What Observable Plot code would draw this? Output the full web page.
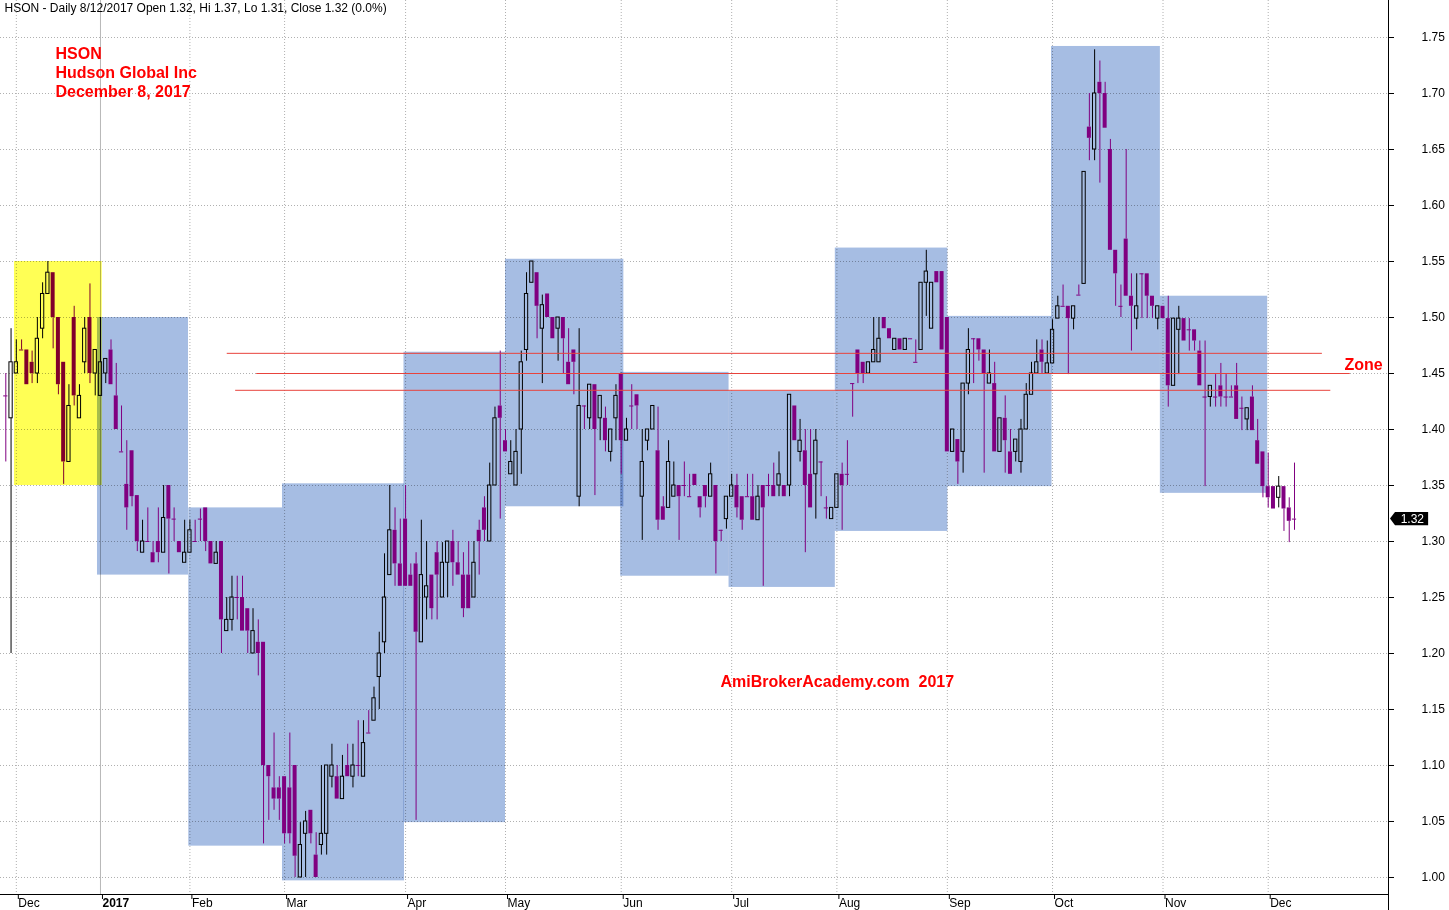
<!DOCTYPE html>
<html><head><meta charset="utf-8">
<script src="https://cdn.jsdelivr.net/npm/d3@7"></script>
<script src="https://cdn.jsdelivr.net/npm/@observablehq/plot@0.6"></script>
<style>html,body{margin:0;padding:0;background:#fff;}#chart{width:1449px;height:910px;}</style>
</head><body><div id="chart"></div>
<script>
// ---- Daily OHLC, HSON, late Nov 2016 -> Dec 8 2017 (one entry per bar) ----
const open = [
1.430,1.410,1.450,1.471,1.471,1.460,1.450,1.490,1.521,1.540,
1.500,1.460,1.371,1.500,1.410,1.460,1.500,1.450,1.430,1.450,
1.471,1.430,1.380,1.351,1.381,1.341,1.290,1.300,1.290,1.300,
1.290,1.350,1.320,1.300,1.281,1.290,1.300,1.320,1.330,1.300,
1.280,1.300,1.220,1.230,1.250,1.250,1.240,1.200,1.210,1.210,
1.100,1.080,1.080,1.090,1.080,1.100,1.000,1.039,1.060,1.020,
1.029,1.039,1.090,1.090,1.070,1.100,1.090,1.100,1.090,1.129,
1.140,1.179,1.210,1.270,1.310,1.280,1.320,1.270,1.280,1.210,
1.250,1.270,1.290,1.250,1.281,1.300,1.281,1.270,1.270,1.250,
1.310,1.330,1.300,1.350,1.421,1.390,1.360,1.350,1.400,1.471,
1.531,1.540,1.490,1.521,1.500,1.490,1.500,1.460,1.471,1.340,
1.421,1.410,1.440,1.410,1.410,1.380,1.410,1.450,1.390,1.421,
1.431,1.340,1.390,1.400,1.381,1.331,1.330,1.340,1.350,1.350,
1.340,1.360,1.340,1.350,1.340,1.350,1.310,1.320,1.340,1.350,
1.340,1.340,1.340,1.319,1.350,1.350,1.350,1.350,1.350,1.350,
1.421,1.380,1.381,1.360,1.360,1.371,1.330,1.320,1.330,1.360,
1.360,1.441,1.471,1.460,1.450,1.460,1.460,1.500,1.490,1.471,
1.481,1.471,1.481,1.460,1.471,1.531,1.490,1.541,1.541,1.500,
1.380,1.391,1.380,1.441,1.481,1.481,1.471,1.441,1.441,1.380,
1.410,1.380,1.380,1.371,1.400,1.431,1.450,1.471,1.450,1.459,
1.499,1.510,1.510,1.499,1.520,1.530,1.670,1.650,1.710,1.700,
1.650,1.560,1.510,1.570,1.519,1.499,1.539,1.539,1.519,1.499,
1.510,1.499,1.439,1.489,1.499,1.489,1.489,1.470,1.429,1.429,
1.429,1.439,1.429,1.429,1.439,1.419,1.409,1.429,1.390,1.380,
1.349,1.349,1.339,1.349,1.330,1.320];
const high = [
1.450,1.490,1.480,1.480,1.471,1.470,1.500,1.531,1.550,1.540,
1.500,1.460,1.440,1.510,1.440,1.500,1.530,1.471,1.500,1.463,
1.480,1.459,1.421,1.390,1.381,1.341,1.319,1.330,1.300,1.330,
1.350,1.350,1.330,1.300,1.319,1.319,1.319,1.329,1.330,1.300,
1.300,1.300,1.250,1.269,1.269,1.269,1.240,1.240,1.230,1.210,
1.100,1.129,1.090,1.090,1.129,1.100,1.049,1.059,1.060,1.040,
1.100,1.100,1.119,1.100,1.109,1.119,1.119,1.140,1.140,1.149,
1.170,1.219,1.289,1.350,1.330,1.320,1.350,1.280,1.290,1.319,
1.300,1.270,1.300,1.299,1.300,1.310,1.300,1.290,1.300,1.300,
1.319,1.340,1.370,1.420,1.470,1.400,1.390,1.400,1.470,1.540,
1.550,1.540,1.520,1.521,1.500,1.500,1.500,1.490,1.471,1.490,
1.421,1.440,1.440,1.430,1.420,1.400,1.440,1.450,1.410,1.440,
1.431,1.400,1.400,1.421,1.420,1.340,1.390,1.371,1.350,1.371,
1.360,1.360,1.340,1.350,1.370,1.350,1.310,1.340,1.360,1.360,
1.340,1.360,1.360,1.350,1.350,1.360,1.370,1.380,1.350,1.431,
1.421,1.409,1.400,1.400,1.400,1.371,1.340,1.330,1.360,1.370,
1.390,1.441,1.471,1.460,1.460,1.500,1.500,1.500,1.490,1.481,
1.481,1.481,1.481,1.480,1.531,1.560,1.531,1.541,1.541,1.500,
1.400,1.391,1.441,1.490,1.481,1.481,1.471,1.471,1.460,1.410,
1.430,1.400,1.391,1.409,1.441,1.460,1.480,1.480,1.479,1.498,
1.519,1.529,1.510,1.510,1.529,1.630,1.700,1.739,1.729,1.710,
1.659,1.560,1.529,1.650,1.539,1.539,1.539,1.539,1.519,1.510,
1.510,1.519,1.499,1.510,1.499,1.499,1.489,1.479,1.479,1.439,
1.449,1.459,1.449,1.439,1.459,1.429,1.419,1.439,1.409,1.380,
1.379,1.349,1.358,1.349,1.339,1.370];
const low = [
1.371,1.200,1.450,1.471,1.440,1.441,1.441,1.481,1.521,1.472,
1.431,1.351,1.371,1.421,1.410,1.450,1.441,1.430,1.430,1.441,
1.440,1.400,1.380,1.310,1.331,1.291,1.290,1.300,1.281,1.281,
1.290,1.271,1.300,1.290,1.281,1.290,1.300,1.300,1.291,1.280,
1.280,1.200,1.220,1.220,1.230,1.220,1.200,1.200,1.180,1.030,
1.051,1.060,1.051,1.030,1.030,1.000,1.000,1.000,1.030,1.000,
1.020,1.020,1.080,1.070,1.070,1.090,1.080,1.090,1.090,1.129,
1.140,1.150,1.200,1.270,1.260,1.260,1.260,1.260,1.051,1.210,
1.230,1.230,1.230,1.250,1.250,1.260,1.270,1.232,1.240,1.250,
1.270,1.300,1.300,1.350,1.320,1.380,1.360,1.350,1.360,1.461,
1.531,1.481,1.441,1.500,1.481,1.461,1.450,1.440,1.431,1.331,
1.400,1.400,1.341,1.390,1.380,1.371,1.390,1.360,1.390,1.400,
1.400,1.301,1.381,1.400,1.310,1.319,1.330,1.340,1.301,1.340,
1.340,1.350,1.321,1.330,1.340,1.271,1.300,1.311,1.340,1.321,
1.310,1.340,1.319,1.319,1.260,1.340,1.340,1.340,1.340,1.340,
1.390,1.371,1.290,1.330,1.320,1.340,1.320,1.320,1.330,1.310,
1.350,1.411,1.441,1.441,1.450,1.460,1.460,1.490,1.481,1.471,
1.471,1.471,1.481,1.460,1.471,1.501,1.490,1.531,1.471,1.380,
1.380,1.351,1.361,1.431,1.441,1.461,1.361,1.441,1.380,1.380,
1.361,1.360,1.371,1.361,1.400,1.431,1.450,1.450,1.450,1.459,
1.499,1.510,1.449,1.489,1.520,1.530,1.640,1.640,1.620,1.669,
1.560,1.510,1.500,1.519,1.470,1.489,1.499,1.499,1.499,1.489,
1.499,1.420,1.439,1.449,1.479,1.470,1.470,1.439,1.349,1.420,
1.420,1.420,1.420,1.429,1.409,1.399,1.399,1.399,1.369,1.339,
1.330,1.329,1.330,1.309,1.299,1.310];
const close = [
1.430,1.460,1.460,1.471,1.440,1.450,1.481,1.521,1.540,1.500,
1.440,1.371,1.421,1.430,1.430,1.490,1.450,1.471,1.460,1.463,
1.440,1.400,1.380,1.330,1.340,1.300,1.300,1.300,1.281,1.290,
1.321,1.320,1.320,1.290,1.290,1.310,1.300,1.320,1.300,1.280,
1.290,1.230,1.230,1.250,1.250,1.220,1.220,1.220,1.200,1.100,
1.090,1.070,1.070,1.039,1.039,1.019,1.029,1.050,1.039,1.000,
1.039,1.100,1.100,1.070,1.090,1.090,1.100,1.100,1.120,1.129,
1.160,1.200,1.250,1.310,1.280,1.260,1.260,1.260,1.219,1.270,
1.260,1.240,1.270,1.281,1.300,1.281,1.270,1.240,1.240,1.281,
1.300,1.310,1.350,1.410,1.410,1.380,1.371,1.380,1.460,1.521,
1.550,1.510,1.511,1.500,1.481,1.500,1.481,1.440,1.460,1.421,
1.421,1.440,1.400,1.430,1.390,1.400,1.430,1.390,1.400,1.421,
1.421,1.371,1.400,1.421,1.319,1.319,1.371,1.350,1.340,1.350,
1.340,1.350,1.330,1.340,1.360,1.300,1.310,1.340,1.350,1.330,
1.319,1.340,1.319,1.340,1.330,1.350,1.340,1.360,1.340,1.431,
1.390,1.390,1.350,1.330,1.390,1.371,1.330,1.330,1.360,1.350,
1.360,1.441,1.450,1.450,1.460,1.471,1.481,1.490,1.481,1.481,
1.471,1.481,1.481,1.460,1.531,1.541,1.531,1.531,1.471,1.380,
1.400,1.371,1.441,1.471,1.481,1.471,1.450,1.450,1.380,1.410,
1.390,1.360,1.391,1.400,1.431,1.450,1.460,1.460,1.459,1.489,
1.510,1.510,1.499,1.510,1.520,1.630,1.660,1.700,1.700,1.669,
1.560,1.539,1.510,1.519,1.510,1.510,1.539,1.519,1.510,1.510,
1.499,1.439,1.499,1.499,1.479,1.489,1.479,1.439,1.429,1.439,
1.429,1.429,1.429,1.429,1.409,1.419,1.419,1.399,1.369,1.349,
1.339,1.329,1.349,1.329,1.318,1.320];

// month ticks (bar index of first bar of the month) and labels
const monthTickIndex = [2, 18, 35, 53, 76, 95, 117, 138, 158, 179, 199, 220, 240];
const monthTickLabel = ["Dec","2017","Feb","Mar","Apr","May","Jun","Jul","Aug","Sep","Oct","Nov","Dec"];
const yTicks = [1.00,1.05,1.10,1.15,1.20,1.25,1.30,1.35,1.40,1.45,1.50,1.55,1.60,1.65,1.70,1.75];

// monthly high/low boxes (bar-index extent, price extent); first = Dec 2016 (yellow)
const zoneStart = [1.65, 17.43, 34.79, 52.6, 75.7, 95.0, 116.9, 137.5, 157.7, 179.1, 198.8, 219.5];
const zoneEnd   = [18.33, 34.73, 52.6, 75.8, 95.0, 117.5, 137.5, 157.7, 179.1, 198.9, 219.5, 239.9];
const zoneHigh  = [1.55, 1.50, 1.33, 1.3515, 1.469, 1.552, 1.451, 1.434, 1.562, 1.501, 1.742, 1.519];
const zoneLow   = [1.35, 1.27, 1.028, 0.997, 1.049, 1.331, 1.269, 1.259, 1.309, 1.349, 1.45, 1.343];

// the three "Zone" lines
const zoneLinePrice = [1.468, 1.45, 1.435];
const zoneLineStart = [42.1, 47.7, 43.7];
const zoneLineEnd   = [250.3, 255.6, 251.9];

const headerText = "HSON - Daily 8/12/2017 Open 1.32, Hi 1.37, Lo 1.31, Close 1.32 (0.0%)";
const titleLines = "HSON\nHudson Global Inc\nDecember 8, 2017";
const watermark = "AmiBrokerAcademy.com\u00a0 2017";

// ---------------------------------------------------------------
const bars = open.map((o, i) => ({i, o, h: high[i], l: low[i], c: close[i]}));
const isDoji = d => Math.abs(d.c - d.o) < 0.0005;
const up = bars.filter(d => !isDoji(d) && d.c > d.o);
const down = bars.filter(d => !isDoji(d) && d.c < d.o);
const doji = bars.filter(isDoji);
const notUp = bars.filter(d => !(d.c > d.o) || isDoji(d));
const zones = zoneStart.map((s, k) => ({start: s, end: zoneEnd[k], high: zoneHigh[k], low: zoneLow[k]}));
const zoneLines = zoneLinePrice.map((p, k) => ({price: p, start: zoneLineStart[k], end: zoneLineEnd[k]}));
const labelOf = new Map(monthTickIndex.map((t, k) => [t, monthTickLabel[k]]));
const last = bars[bars.length - 1];

const PURPLE = "#800080";
const X0 = -1.008, X1 = 262.87, Y0 = 0.98482, Y1 = 1.78304;
const GRID = "#b0b0b0";

const tagPts = [
  {y: last.c + 0.006, x1: 264.2, x2: 270.5},
  {y: last.c, x1: 263.25, x2: 270.5},
  {y: last.c - 0.006, x1: 264.2, x2: 270.5}
];

const chart = Plot.plot({
  width: 1449, height: 910,
  marginLeft: 0, marginRight: 61, marginTop: 0, marginBottom: 16,
  x: {type: "linear", domain: [X0, X1]},
  y: {type: "linear", domain: [Y0, Y1]},
  style: {fontFamily: "Arial, 'Liberation Sans', sans-serif", fontSize: "12px", background: "white", color: "black", overflow: "visible"},
  marks: [
    Plot.gridY(yTicks, {stroke: GRID, strokeOpacity: 1, strokeDasharray: "1,2"}),
    Plot.gridX(monthTickIndex.filter(t => t !== 18), {stroke: GRID, strokeOpacity: 1, strokeDasharray: "1,2"}),
    Plot.ruleX([18], {stroke: "#b8b8b8"}),
    Plot.rect(zones.slice(1), {x1: "start", x2: "end", y1: "low", y2: "high", fill: "#a6bde3", mixBlendMode: "multiply"}),
    // wicks
    Plot.ruleX(up, {x: "i", y1: "h", y2: d => Math.max(d.o, d.c), stroke: "black"}),
    Plot.ruleX(up, {x: "i", y1: "l", y2: d => Math.min(d.o, d.c), stroke: "black"}),
    Plot.ruleX(notUp, {x: "i", y1: "h", y2: d => Math.max(d.o, d.c), stroke: PURPLE}),
    Plot.ruleX(notUp, {x: "i", y1: "l", y2: d => Math.min(d.o, d.c), stroke: PURPLE}),
    // bodies
    Plot.rect(down, {x1: d => d.i - 0.38, x2: d => d.i + 0.38, y1: "o", y2: "c", fill: PURPLE}),
    Plot.rect(up, {x1: d => d.i - 0.31, x2: d => d.i + 0.31, y1: "o", y2: "c", fill: "none", stroke: "black"}),
    Plot.ruleY(doji, {y: "c", x1: d => d.i - 0.4, x2: d => d.i + 0.4, stroke: PURPLE}),
    // zone lines
    Plot.ruleY(zoneLines, {y: "price", x1: "start", x2: "end", stroke: "#e8433c"}),
    // Dec 2016 box (yellow, multiplied over the candles)
    Plot.rect(zones.slice(0, 1), {x1: "start", x2: "end", y1: "low", y2: "high", fill: "#ffff55", mixBlendMode: "multiply"}),
    // axes
    Plot.ruleY([Y0], {x1: X0, x2: X1, stroke: "black"}),
    Plot.ruleX([X1], {y1: 0.9705, y2: Y1, stroke: "black"}),
    Plot.axisY(yTicks, {anchor: "right", tickSize: 5, tickPadding: 28, tickFormat: d => d.toFixed(2), fontSize: 12, label: null}),
    Plot.axisX(monthTickIndex.filter(t => t !== 18), {anchor: "bottom", tickSize: 5, tickPadding: -1, textAnchor: "start", dx: 2, tickFormat: t => labelOf.get(t), fontSize: 12, label: null}),
    Plot.axisX([18], {anchor: "bottom", tickSize: 5, tickPadding: -1, textAnchor: "start", dx: 2, tickFormat: t => labelOf.get(t), fontSize: 12, fontWeight: "bold", label: null}),
    // last price tag
    Plot.areaX(tagPts, {y: "y", x1: "x1", x2: "x2", fill: "black", curve: "linear"}),
    Plot.text([last], {x: 267.4, y: "c", text: d => d.c.toFixed(2), fill: "white", fontSize: 12}),
    // texts
    Plot.text([headerText], {frameAnchor: "top-left", dx: 4, dy: 3, textAnchor: "start", lineAnchor: "top", fontSize: 12, fill: "black"}),
    Plot.text([titleLines], {frameAnchor: "top-left", dx: 55, dy: 44.5, textAnchor: "start", lineAnchor: "top", fontSize: 16, fontWeight: "bold", fill: "#ff0000", lineHeight: 1.19}),
    Plot.text([watermark], {frameAnchor: "top-left", dx: 720, dy: 675.5, textAnchor: "start", lineAnchor: "top", fontSize: 16, fontWeight: "bold", fill: "#ff0000"}),
    Plot.text(["Zone"], {frameAnchor: "top-left", dx: 1344, dy: 358, textAnchor: "start", lineAnchor: "top", fontSize: 16, fontWeight: "bold", fill: "#ff0000"})
  ]
});
document.getElementById("chart").appendChild(chart);
</script>
</body></html>
